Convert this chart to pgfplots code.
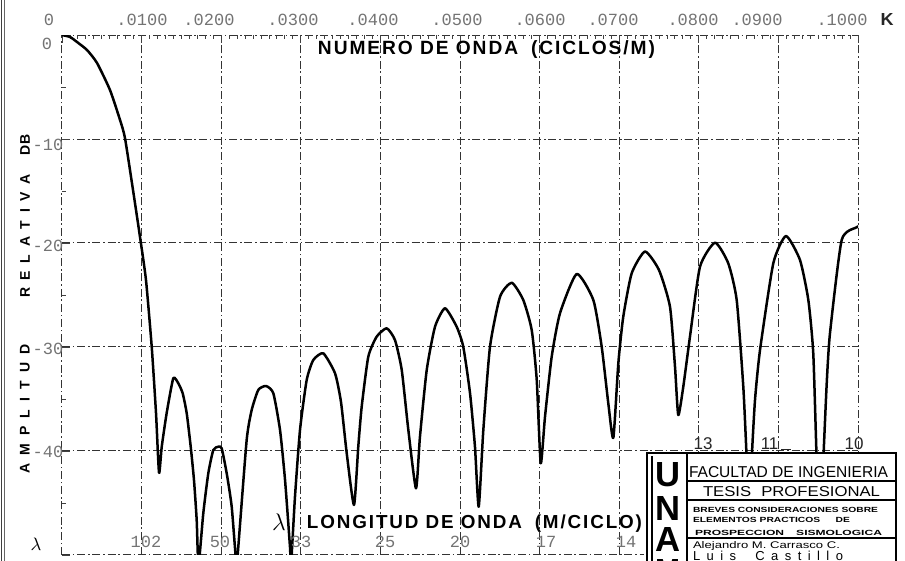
\documentclass[border=0pt]{standalone}
\usepackage{pgfplots}
\pgfplotsset{compat=1.18}
\usepackage{graphicx}
\usepackage{fontspec}
\setmainfont{Liberation Sans}
\newfontfamily\monof{Liberation Mono}
\newfontfamily\labf[LetterSpace=10]{Liberation Sans}
\begin{document}
\begin{tikzpicture}
\begin{axis}[
  at={(0,0)}, anchor=south west,
  scale only axis, width=398pt, height=260pt,
  xmin=0, xmax=0.1, ymin=-50, ymax=0,
  xtick={0,0.01,0.02,0.03,0.04,0.05,0.06,0.07,0.08,0.09,0.1},
  ytick={-50,-40,-30,-20,-10,0},
  xticklabels={}, yticklabels={},
  scaled x ticks=false, scaled y ticks=false,
  xtick pos=right, ytick pos=left,
  minor x tick num=9, minor y tick num=1,
  tick align=inside,
  major tick length=4pt, minor tick length=2.2pt,
  tick style={black!75, line width=0.45pt},
  axis line style={draw=none},
  grid=major,
  major grid style={black!80, line width=0.5pt, dash pattern=on 4pt off 1.4pt on 0.8pt off 1.4pt},
  clip=true,
]
\addplot[black, line width=1.25pt, smooth, tension=0.35, line join=round] table {
0.00000 0.00
0.00101 -0.19
0.00188 -0.67
0.00314 -1.44
0.00440 -2.69
0.00603 -5.29
0.00729 -8.17
0.00791 -9.90
0.00892 -14.90
0.00980 -19.42
0.01055 -23.56
0.01127 -29.97
0.01181 -36.35
0.01219 -42.09
0.01253 -39.59
0.01315 -36.35
0.01398 -33.01
0.01461 -33.49
0.01516 -34.45
0.01567 -36.38
0.01617 -39.59
0.01658 -42.79
0.01692 -46.63
0.01715 -50.96
0.01775 -45.99
0.01838 -42.14
0.01901 -39.90
0.01964 -39.59
0.02006 -39.74
0.02069 -42.14
0.02132 -45.36
0.02192 -50.96
0.02215 -49.20
0.02320 -38.94
0.02383 -36.06
0.02466 -34.13
0.02563 -33.75
0.02655 -34.45
0.02739 -37.98
0.02802 -42.79
0.02864 -49.20
0.02877 -50.96
0.02927 -44.39
0.02990 -37.98
0.03074 -33.17
0.03157 -31.25
0.03283 -30.61
0.03430 -32.53
0.03505 -35.29
0.03577 -40.22
0.03668 -45.19
0.03722 -39.59
0.03765 -35.74
0.03848 -30.93
0.03953 -29.01
0.04079 -28.20
0.04183 -29.33
0.04268 -32.21
0.04351 -37.98
0.04447 -43.59
0.04497 -38.63
0.04582 -32.21
0.04686 -28.05
0.04812 -26.28
0.04958 -28.05
0.05041 -29.97
0.05126 -34.45
0.05188 -39.59
0.05235 -45.36
0.05293 -37.98
0.05377 -29.97
0.05503 -25.16
0.05650 -23.82
0.05795 -25.48
0.05901 -28.37
0.05964 -33.17
0.06014 -41.18
0.06068 -36.70
0.06152 -30.93
0.06256 -26.76
0.06466 -22.98
0.06675 -25.48
0.06780 -29.97
0.06863 -35.41
0.06926 -38.75
0.06989 -31.57
0.07051 -27.09
0.07157 -22.91
0.07324 -20.82
0.07500 -22.60
0.07638 -26.13
0.07701 -31.89
0.07742 -36.54
0.07805 -33.82
0.07889 -29.01
0.08015 -22.28
0.08204 -19.97
0.08370 -21.95
0.08476 -25.48
0.08559 -33.82
0.08602 -40.87
0.08633 -47.60
0.08664 -40.87
0.08706 -35.10
0.08769 -30.29
0.08936 -21.95
0.09095 -19.33
0.09271 -21.63
0.09376 -25.48
0.09438 -30.61
0.09481 -40.87
0.09523 -47.60
0.09564 -40.87
0.09607 -33.49
0.09648 -28.68
0.09795 -19.71
0.09984 -18.49
0.10000 -18.41
};
\end{axis}
\begin{scope}[x=0.5pt, y=-0.5pt, shift={(-31pt,277.5pt)}]
  % scan border lines
  \draw[black!75, line width=0.6pt] (1.5,0) -- (1.5,561);
  \draw[black!60, line width=0.4pt] (4.5,0) -- (4.5,561);
  % top tick labels
  \begin{scope}[every node/.style={inner sep=0pt, font=\monof\fontsize{8.5}{8.5}\selectfont, text=black!55}]
    \node at (49,20) {0};
    \node at (142,20) {.0100};
    \node at (209,20) {.0200};
    \node at (293,20) {.0300};
    \node at (373,20) {.0400};
    \node at (457,20) {.0500};
    \node at (540,20) {.0600};
    \node at (613,20) {.0700};
    \node at (693,20) {.0800};
    \node at (757,20) {.0900};
    \node at (842,20) {.1000};
    % y labels
    \node at (47,44) {0};
    \node at (48,145) {-10};
    \node at (48,246) {-20};
    \node at (48,349) {-30};
    \node at (48,452) {-40};
    % bottom wavelength labels
    \node at (146,542) {102};
    \node at (220,542) {50};
    \node at (301,542) {33};
    \node at (385,542) {25};
    \node at (460,542) {20};
    \node at (546,542) {17};
    \node at (626,542) {14};
  \end{scope}
  \node[inner sep=0pt, text=black!85] at (887,20) {\resizebox{6.5pt}{6pt}{\bfseries K}};
  % axis titles
  \node[inner sep=0pt] at (486.5,50) {\resizebox{168.5pt}{!}{\labf\bfseries\fontsize{7}{7}\selectfont NUMERO DE ONDA\hspace{0.3em} (CICLOS/M)}};
  \node[inner sep=0pt] at (474.5,524) {\resizebox{167.5pt}{!}{\labf\bfseries\fontsize{7}{7}\selectfont LONGITUD DE ONDA\hspace{0.3em} (M/CICLO)}};
  \node[inner sep=0pt] at (279,522) {\fontsize{12}{12}\selectfont$\lambda$};
  \node[inner sep=0pt] at (36,544) {\fontsize{9.5}{9.5}\selectfont$\lambda$};
  \begin{scope}[every node/.style={inner sep=0pt, rotate=90, font=\bfseries\fontsize{7}{7}\selectfont}]
    \node at (25,409) {\makebox[65pt][s]{A\hfill M\hfill P\hfill L\hfill I\hfill T\hfill U\hfill D}};
    \node at (25,236) {\makebox[62pt][s]{R\hfill E\hfill L\hfill A\hfill T\hfill I\hfill V\hfill A}};
    \node at (25,145) {DB};
  \end{scope}
  % small wavelength labels above title block
  \begin{scope}[every node/.style={inner sep=0pt, font=\fontsize{8.5}{8.5}\selectfont, text=black!85}]
    \node at (703,444) {13};
    \node at (776,444) {11\,\rule[-0.3pt]{5pt}{0.4pt}};
    \node at (854,444) {10};
  \end{scope}
  % title block
  \fill[white] (644,453) rectangle (900,575);
  \draw[black, line width=1.1pt] (647,575) -- (647,453) -- (896,453) -- (896,575);
  \draw[black, line width=0.6pt] (652,456) -- (652,575);
  \draw[black, line width=1.1pt] (687,453) -- (687,575);
  \draw[black, line width=0.7pt] (687,481) -- (896,481);
  \draw[black, line width=0.7pt] (687,500) -- (896,500);
  \draw[black, line width=0.7pt] (687,538) -- (896,538);
  \begin{scope}[every node/.style={inner sep=0pt}]
    \node at (668,475) {\resizebox{12.5pt}{12pt}{\bfseries U}};
    \node at (668,508.5) {\resizebox{12.5pt}{12pt}{\bfseries N}};
    \node at (668,540) {\resizebox{12.5pt}{12pt}{\bfseries A}};
    \node at (668,572) {\resizebox{12.5pt}{12pt}{\bfseries M}};
    \node at (788.5,472.5) {\resizebox{99.5pt}{5.5pt}{FACULTAD DE INGENIERIA}};
    \node at (791.5,492) {\resizebox{88.5pt}{5pt}{TESIS\hspace{0.6em}PROFESIONAL}};
    \node at (785.5,509.5) {\resizebox{92.5pt}{2.6pt}{\bfseries BREVES CONSIDERACIONES SOBRE}};
    \node at (771.5,519.5) {\resizebox{78.5pt}{2.6pt}{\bfseries ELEMENTOS PRACTICOS\hspace{1.5em}DE}};
    \node at (788.5,532.5) {\resizebox{93.5pt}{2.6pt}{\bfseries PROSPECCION\hspace{1em}SISMOLOGICA}};
    \node at (766.5,546) {\resizebox{73.5pt}{3.5pt}{Alejandro M. Carrasco C.}};
    \node at (768,555.5) {\makebox[75pt][s]{\fontsize{6.5}{6.5}\selectfont L\hfill u\hfill i\hfill s\hfill\hfill\hfill C\hfill a\hfill s\hfill t\hfill i\hfill l\hfill l\hfill o}};
  \end{scope}
  \pgfresetboundingbox
  \path[use as bounding box] (0,0) rectangle (905,561);
\end{scope}
\end{tikzpicture}
\end{document}
